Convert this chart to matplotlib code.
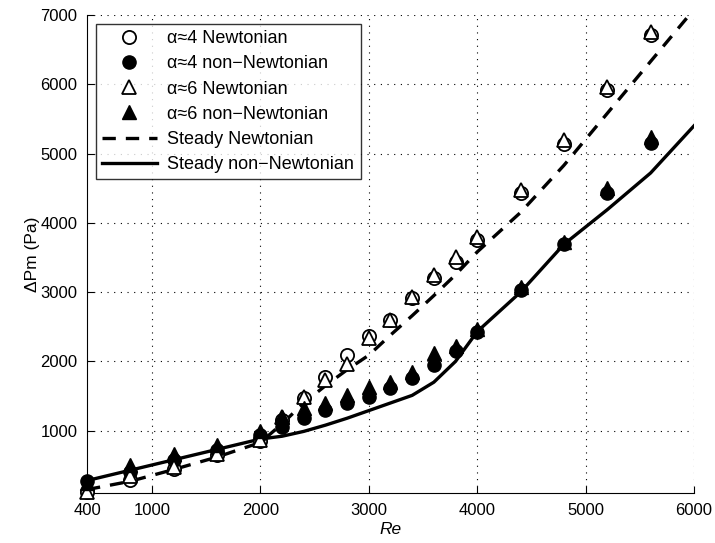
import numpy as np
import matplotlib.pyplot as plt

plt.rcParams['font.family'] = ['Liberation Sans', 'DejaVu Sans']

re = [400, 800, 1200, 1600, 2000, 2200, 2400, 2600, 2800, 3000,
      3200, 3400, 3600, 3800, 4000, 4400, 4800, 5200, 5600]

a4_newt = [120, 290, 450, 650, 850, 1150, 1470, 1780, 2090, 2360,
           2600, 2920, 3200, 3440, 3755, 4430, 5140, 5920, 6710]
a4_nonnewt = [270, 410, 580, 720, 940, 1060, 1190, 1300, 1400, 1490,
              1620, 1760, 1950, 2150, 2430, 3030, 3690, 4430, 5150]
a6_newt = [110, 340, 480, 660, 870, 1200, 1490, 1730, 1960, 2340,
           2600, 2930, 3250, 3500, 3800, 4475, 5200, 5960, 6755]
a6_nonnewt = [250, 510, 670, 800, 1000, 1200, 1330, 1400, 1520, 1630,
              1700, 1850, 2120, 2220, 2470, 3080, 3730, 4500, 5240]

steady_re = [400, 800, 1200, 1600, 2000, 2200, 2400, 2600, 2800, 3000, 3200,
             3400, 3600, 3800, 4000, 4400, 4800, 5200, 5600, 6000]
steady_newt = [150, 270, 440, 620, 830, 1100, 1400, 1650, 1880, 2090, 2380,
               2660, 2950, 3250, 3580, 4150, 4830, 5580, 6330, 7080]
steady_nonnewt = [280, 430, 580, 730, 880, 920, 990, 1080, 1180, 1290, 1400,
                  1510, 1700, 2000, 2430, 3000, 3690, 4190, 4720, 5400]

fig = plt.figure(figsize=(7.15, 5.43), dpi=100)
ax = fig.add_axes([0.1217, 0.092, 0.8489, 0.8804])

ms = 9.5
ax.plot(re, a4_newt, 'o', mfc='white', mec='black', mew=1.3, ms=ms, label='α≈4 Newtonian', clip_on=False, zorder=3)
ax.plot(re, a4_nonnewt, 'o', mfc='black', mec='black', ms=ms, label='α≈4 non−Newtonian', clip_on=False, zorder=3)
ax.plot(re, a6_newt, '^', mfc='white', mec='black', mew=1.3, ms=ms, label='α≈6 Newtonian', clip_on=False, zorder=3)
ax.plot(re, a6_nonnewt, '^', mfc='black', mec='black', ms=ms, label='α≈6 non−Newtonian', clip_on=False, zorder=3)
ax.plot(steady_re, steady_newt, color='black', lw=2.4, ls=(0, (4, 3)), label='Steady Newtonian', zorder=2)
ax.plot(steady_re, steady_nonnewt, color='black', lw=2.4, ls='-', label='Steady non−Newtonian', zorder=2)

ax.set_xlim(400, 6000)
ax.set_ylim(100, 7000)
ax.set_xticks([400, 1000, 2000, 3000, 4000, 5000, 6000])
ax.set_yticks([1000, 2000, 3000, 4000, 5000, 6000, 7000])
ax.tick_params(direction='in', labelsize=12, length=5, pad=7, top=False, right=False)

for v in [1000, 2000, 3000, 4000, 5000, 6000]:
    ax.axvline(v, color='black', ls=(0, (1, 5)), lw=0.8, zorder=1)
for v in [1000, 2000, 3000, 4000, 5000, 6000, 7000]:
    ax.axhline(v, color='black', ls=(0, (1, 5)), lw=0.8, zorder=1)

ax.spines['top'].set_visible(False)
ax.spines['right'].set_visible(False)

ax.set_xlabel('Re', style='italic', fontsize=12.5, labelpad=3)
ax.set_ylabel('ΔPm (Pa)', fontsize=12.5, labelpad=0)

leg = ax.legend(loc='upper left', fontsize=13, frameon=True, fancybox=False,
                edgecolor='black', handlelength=3.0, handletextpad=0.6,
                borderaxespad=0.5, labelspacing=0.45, borderpad=0.35)
leg.get_frame().set_linewidth(1.0)

fig.savefig('out.png', dpi=100)
